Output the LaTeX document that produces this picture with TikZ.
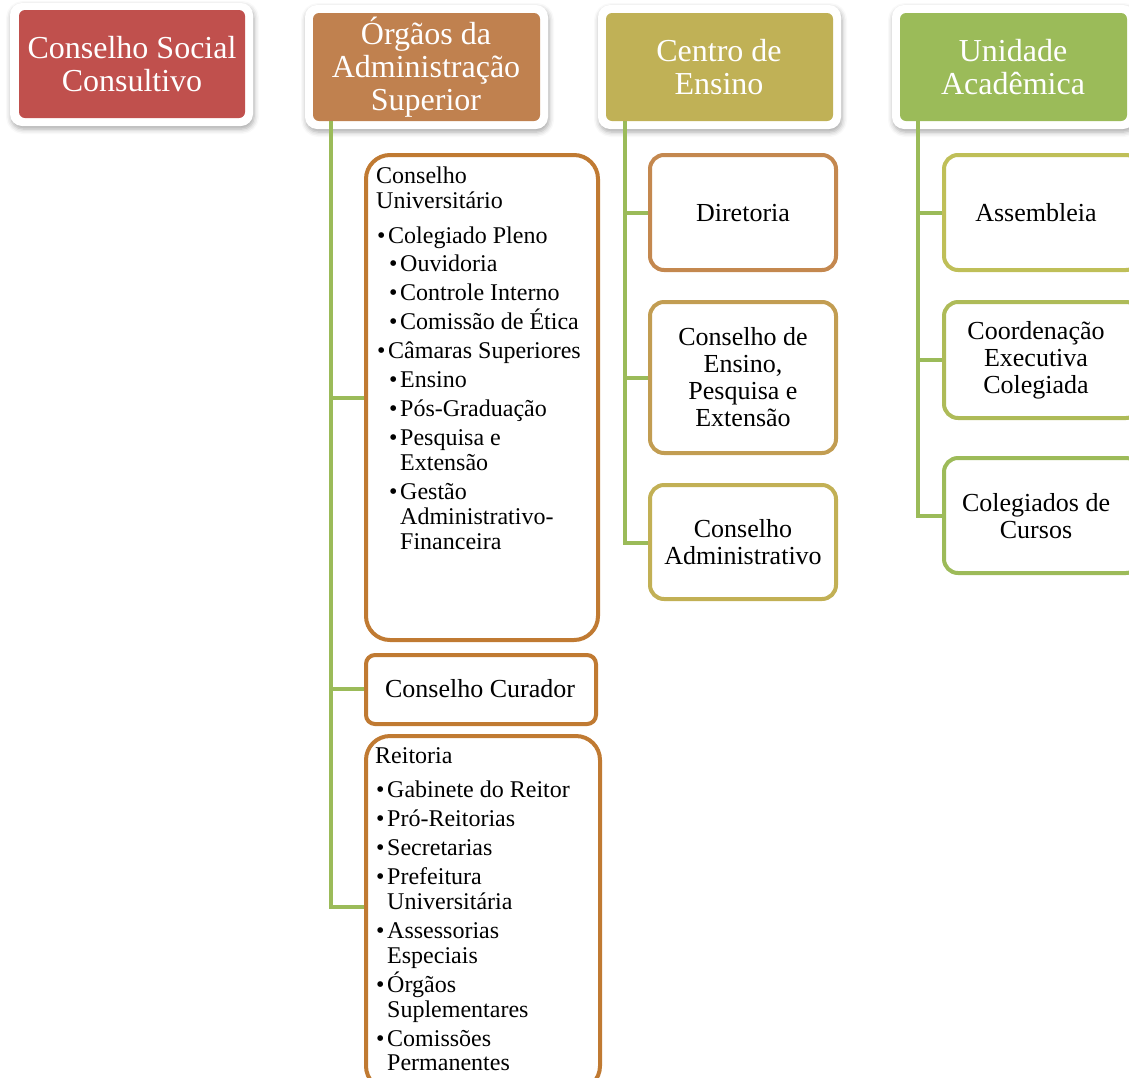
\documentclass[tikz,border=0pt]{standalone}
\usepackage{fontspec}
\setmainfont{Liberation Serif}
\usetikzlibrary{shadows.blur}
\definecolor{hRed}{HTML}{C0504D}
\definecolor{hOrg}{HTML}{C0814F}
\definecolor{hOli}{HTML}{C0B156}
\definecolor{hGrn}{HTML}{9BBB59}
\definecolor{bOrg}{HTML}{C07A32}
\definecolor{bDir}{HTML}{C4884F}
\definecolor{bCep}{HTML}{C29D52}
\definecolor{bCad}{HTML}{C2B055}
\definecolor{bAss}{HTML}{BFBF58}
\definecolor{bCoo}{HTML}{AEBB58}
\definecolor{bCol}{HTML}{9DBB59}
\definecolor{lnGrn}{HTML}{9BBB59}
\tikzset{
  frame/.style={fill=white, rounded corners=12pt,
    blur shadow={shadow xshift=1pt, shadow yshift=-3pt, shadow blur radius=5pt, shadow opacity=35}},
  headfill/.style={rounded corners=6pt, draw=none},
  headtxt/.style={text=white, font=\fontsize{32}{33}\selectfont, align=center, inner sep=0pt},
  childbox/.style={line width=4pt, fill=white},
  childtxt/.style={font=\fontsize{26}{27}\selectfont, align=center, inner sep=0pt},
  listtxt/.style={font=\fontsize{24}{25}\selectfont, anchor=base west, inner sep=0pt},
  conn/.style={draw=lnGrn, line width=4pt},
}
\newcommand{\bul}[1]{\makebox[11pt][l]{•}#1}
\begin{document}
\begin{tikzpicture}[x=1pt,y=-1pt]
\useasboundingbox (0,0) rectangle (1129,1077);
% headers
\fill[frame] (10,3) rectangle (253,126);
\fill[frame] (305,5) rectangle (548,129);
\fill[frame] (598,5) rectangle (841,129);
\fill[frame] (892,5) rectangle (1135,129);
\fill[headfill, hRed] (19,10) rectangle (245,118);
\fill[headfill, hOrg] (313,13) rectangle (540,121);
\fill[headfill, hOli] (606,13) rectangle (833,121);
\fill[headfill, hGrn] (900,13) rectangle (1127,121);
\node[headtxt] (h1) at (132,64) {Conselho Social\\Consultivo};
\node[headtxt] (h2) at (426,67) {Órgãos da\\Administração\\Superior};
\node[headtxt] (h3) at (719,67) {Centro de\\Ensino};
\node[headtxt] (h4) at (1013,67) {Unidade\\Acadêmica};
\coordinate (t2) at (331,121);
\coordinate (t3) at (625,121);
\coordinate (t4) at (918,121);
% connectors
\coordinate (j21) at (331,398);
\coordinate (j22) at (331,689);
\coordinate (j23) at (331,907);
\draw[conn] (t2) -- (j23) -- (366,907);
\draw[conn] (j21) -- (366,398);
\draw[conn] (j22) -- (366,689);
\coordinate (j31) at (625,213);
\coordinate (j32) at (625,378);
\coordinate (j33) at (625,543);
\draw[conn] (t3) -- (j33) -- (650,543);
\draw[conn] (j31) -- (650,213);
\draw[conn] (j32) -- (650,378);
\coordinate (j41) at (918,213);
\coordinate (j42) at (918,360);
\coordinate (j43) at (918,516);
\draw[conn] (t4) -- (j43) -- (944,516);
\draw[conn] (j41) -- (944,213);
\draw[conn] (j42) -- (944,360);
% column 2 boxes
\draw[childbox, draw=bOrg, rounded corners=24pt] (366,155) rectangle (598,640);
\draw[childbox, draw=bOrg, rounded corners=9pt] (366,655) rectangle (596,724);
\draw[childbox, draw=bOrg, rounded corners=24pt] (366,736) rectangle (600,1090);
\node[childtxt] (cc) at (480,689) {Conselho Curador};
\foreach \x/\y/\t [count=\i] in {
  376/183/Conselho, 376/208/Universitário,
  377/243/\bul{Colegiado Pleno},
  389/271/\bul{Ouvidoria}, 389/300/\bul{Controle Interno}, 389/329/\bul{Comissão de Ética},
  377/358/\bul{Câmaras Superiores},
  389/387/\bul{Ensino}, 389/416/\bul{Pós-Graduação},
  389/445/\bul{Pesquisa e}, 400/470/Extensão,
  389/499/\bul{Gestão}, 400/524/Administrativo-, 400/549/Financeira}
  \node[listtxt] (cu\i) at (\x,\y) {\t};
\foreach \x/\y/\t [count=\i] in {
  375/763/Reitoria,
  376/797/\bul{Gabinete do Reitor}, 376/826/\bul{Pró-Reitorias}, 376/855/\bul{Secretarias},
  376/884/\bul{Prefeitura}, 387/909/Universitária,
  376/938/\bul{Assessorias}, 387/963/Especiais,
  376/992/\bul{Órgãos}, 387/1017/Suplementares,
  376/1046/\bul{Comissões}, 387/1070/Permanentes}
  \node[listtxt] (re\i) at (\x,\y) {\t};
% column 3 boxes
\draw[childbox, draw=bDir, rounded corners=14pt] (650,155) rectangle (836,270);
\draw[childbox, draw=bCep, rounded corners=14pt] (650,302) rectangle (836,453);
\draw[childbox, draw=bCad, rounded corners=14pt] (650,485) rectangle (836,599);
\node[childtxt] (d1) at (743,213) {Diretoria};
\node[childtxt] (d2) at (743,377) {Conselho de\\Ensino,\\Pesquisa e\\Extensão};
\node[childtxt] (d3) at (743,542) {Conselho\\Administrativo};
% column 4 boxes
\draw[childbox, draw=bAss, rounded corners=14pt] (944,155) rectangle (1140,270);
\draw[childbox, draw=bCoo, rounded corners=14pt] (944,302) rectangle (1140,418);
\draw[childbox, draw=bCol, rounded corners=14pt] (944,458) rectangle (1140,573);
\node[childtxt] (u1) at (1036,213) {Assembleia};
\node[childtxt] (u2) at (1036,360) {Coordenação\\Executiva\\Colegiada};
\node[childtxt] (u3) at (1036,516) {Colegiados de\\Cursos};
\end{tikzpicture}
\end{document}
